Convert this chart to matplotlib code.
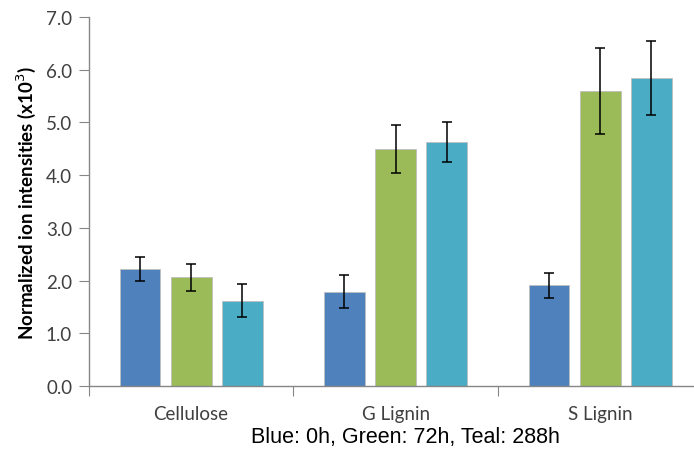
import numpy as np
import matplotlib.pyplot as plt

categories = ["Cellulose", "G Lignin", "S Lignin"]
blue_0h = [2.22, 1.79, 1.91]
blue_err = [0.23, 0.31, 0.24]
green_72h = [2.06, 4.50, 5.60]
green_err = [0.25, 0.46, 0.82]
teal_288h = [1.62, 4.63, 5.85]
teal_err = [0.31, 0.38, 0.70]
yticks = [0.0, 1.0, 2.0, 3.0, 4.0, 5.0, 6.0, 7.0]

fig = plt.figure(figsize=(6.94, 4.52), dpi=100)
# axis runs a little past the right edge of the picture, like the original
ax = fig.add_axes([0.128, 0.144, 0.884, 0.816])

x = np.arange(len(categories)) + 0.5
w = 0.2
off = 0.25
series = [(blue_0h, blue_err, "#4F81BD"), (green_72h, green_err, "#9BBB59"),
          (teal_288h, teal_err, "#4BACC6")]
for i, (vals, errs, col) in enumerate(series):
    ax.bar(x + (i - 1) * off, vals, w, color=col, edgecolor="#BFBFBF", linewidth=0.6,
           yerr=errs, error_kw=dict(ecolor="black", elinewidth=1.1, capsize=3.8, capthick=1.1))

ax.set_xlim(0, 3)
ax.set_ylim(0, 7)
ax.set_yticks(yticks)
ax.set_yticklabels(["%.1f" % t for t in yticks], fontsize=13.5, family="Lato", color="#404040")
ax.set_xticks([0, 1, 2, 3])
ax.set_xticklabels([])
ax.set_xticks(x, minor=True)
ax.set_xticklabels(categories, minor=True, fontsize=13.5, family="Lato", color="#404040")
ax.tick_params(axis="x", which="minor", length=0, pad=14)
ax.tick_params(axis="x", which="major", length=7, color="#868686")
ax.tick_params(axis="y", length=7, color="#868686", pad=5)

for s in ["top", "right"]:
    ax.spines[s].set_visible(False)
for s in ["left", "bottom"]:
    ax.spines[s].set_color("#868686")
    ax.spines[s].set_linewidth(1.0)

ax.set_ylabel("Normalized ion intensities (x10$^{3}$)", fontsize=13.5, family="Lato",
              fontweight="bold", labelpad=6)
fig.text(405 / 694, 0.033, "Blue: 0h, Green: 72h, Teal: 288h", fontsize=15.5,
         family="Liberation Sans", ha="center", va="center")

fig.savefig("out.png", dpi=100)
